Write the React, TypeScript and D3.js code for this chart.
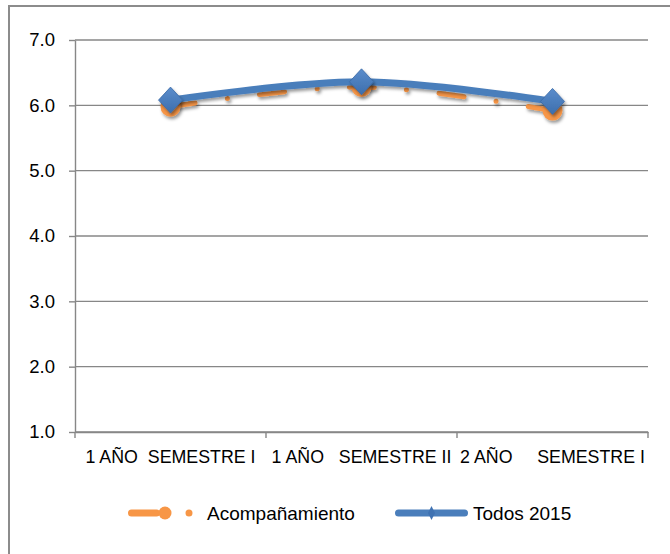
import React, { useEffect, useRef } from "react";
import * as d3 from "d3";

// values
const categories = ["1 AÑO  SEMESTRE I", "1 AÑO   SEMESTRE II", "2 AÑO     SEMESTRE I"];
const acompanamiento = [5.98, 6.28, 5.92];
const todos2015 = [6.08, 6.36, 6.06];
const yTicks = [1, 2, 3, 4, 5, 6, 7];
const seriesNames = ["Acompañamiento", "Todos 2015"];

const ORANGE = "#F79646";
const BLUE = "#4A7EBB";
const GRID = "#878787";
const FONT = "'Liberation Sans', Arial, sans-serif";

const App = () => {
  const svgRef = useRef<SVGSVGElement>(null);

  useEffect(() => {
    const svg = d3.select(svgRef.current);
    svg.selectAll("*").remove();

    const width = 670;
    const height = 554;
    // plot area
    const margin = { top: 40, right: 22, bottom: 122, left: 75 };

    const x = d3
      .scaleBand<string>()
      .domain(categories)
      .range([margin.left, width - margin.right])
      .padding(0);
    const y = d3
      .scaleLinear()
      .domain([1, 7])
      .range([height - margin.bottom, margin.top]);
    const cx = (i: number) => (x(categories[i]) as number) + x.bandwidth() / 2;

    // defs: shadow + diamond gradient
    const defs = svg.append("defs");
    const shadow = defs
      .append("filter")
      .attr("id", "shadow")
      .attr("x", "-50%")
      .attr("y", "-50%")
      .attr("width", "200%")
      .attr("height", "200%");
    shadow
      .append("feDropShadow")
      .attr("dx", 1.5)
      .attr("dy", 2.5)
      .attr("stdDeviation", 1.6)
      .attr("flood-color", "#000")
      .attr("flood-opacity", 0.4);
    const grad = defs
      .append("linearGradient")
      .attr("id", "diam")
      .attr("x1", 0)
      .attr("y1", 0)
      .attr("x2", 0)
      .attr("y2", 1);
    grad.append("stop").attr("offset", "0%").attr("stop-color", "#5B8DCC");
    grad.append("stop").attr("offset", "100%").attr("stop-color", "#3C6EAD");

    // outer chart border
    svg
      .append("rect")
      .attr("x", 9)
      .attr("y", 6)
      .attr("width", 720)
      .attr("height", 620)
      .attr("fill", "none")
      .attr("stroke", "#8C8C8C")
      .attr("stroke-width", 2);

    // gridlines
    svg
      .append("g")
      .selectAll("line")
      .data(yTicks)
      .join("line")
      .attr("x1", margin.left)
      .attr("x2", width - margin.right)
      .attr("y1", (d) => y(d))
      .attr("y2", (d) => y(d))
      .attr("stroke", GRID)
      .attr("stroke-width", 1.4);

    // y axis
    const yAxis = d3
      .axisLeft(y)
      .tickValues(yTicks)
      .tickFormat(d3.format(".1f"))
      .tickSize(6)
      .tickSizeOuter(0)
      .tickPadding(14);
    const gy = svg
      .append("g")
      .attr("transform", `translate(${margin.left},0)`)
      .call(yAxis);
    gy.select(".domain").attr("stroke", GRID).attr("stroke-width", 1.4);
    gy.selectAll(".tick line").attr("stroke", GRID).attr("stroke-width", 1.4);
    gy.selectAll(".tick text")
      .attr("fill", "#000")
      .style("font-family", FONT)
      .style("font-size", "18.5px");

    // x axis: ticks on band boundaries, labels in band centres
    const xAxis = d3.axisBottom(x).tickSize(0).tickSizeOuter(0).tickPadding(0);
    const gx = svg
      .append("g")
      .attr("transform", `translate(0,${height - margin.bottom})`)
      .call(xAxis);
    gx.select(".domain").attr("stroke", GRID).attr("stroke-width", 1.4);
    gx.selectAll(".tick text")
      .attr("y", 25)
      .attr("dy", "0.35em")
      .attr("fill", "#000")
      .style("white-space", "pre")
      .style("font-family", FONT)
      .style("font-size", "17.8px");
    const bounds = categories.map((c) => x(c) as number).concat([x.range()[1]]);
    gx.append("g")
      .selectAll("line")
      .data(bounds)
      .join("line")
      .attr("x1", (d) => d)
      .attr("x2", (d) => d)
      .attr("y1", 0)
      .attr("y2", 6)
      .attr("stroke", GRID)
      .attr("stroke-width", 1.4);

    // smoothed lines
    const line = d3
      .line<number>()
      .x((d, i) => cx(i))
      .y((d) => y(d))
      .curve(d3.curveCatmullRom.alpha(0.5));

    // Acompañamiento: dashed orange with circles
    svg
      .append("path")
      .datum(acompanamiento)
      .attr("d", line)
      .attr("fill", "none")
      .attr("stroke", ORANGE)
      .attr("stroke-width", 5)
      .attr("stroke-linecap", "round")
      .attr("stroke-dasharray", "25 32.5 0 32.5")
      .attr("filter", "url(#shadow)");
    svg
      .append("g")
      .selectAll("circle")
      .data(acompanamiento)
      .join("circle")
      .attr("cx", (d, i) => cx(i))
      .attr("cy", (d) => y(d))
      .attr("r", 10)
      .attr("fill", ORANGE)
      .attr("filter", "url(#shadow)");

    // Todos 2015: solid blue with diamonds
    svg
      .append("path")
      .datum(todos2015)
      .attr("d", line)
      .attr("fill", "none")
      .attr("stroke", BLUE)
      .attr("stroke-width", 7)
      .attr("stroke-linecap", "round")
      .attr("filter", "url(#shadow)");
    const diamond = (w: number, h: number) => `M0,${-h}L${w},0L0,${h}L${-w},0Z`;
    svg
      .append("g")
      .selectAll("path")
      .data(todos2015)
      .join("path")
      .attr("transform", (d, i) => `translate(${cx(i)},${y(d)})`)
      .attr("d", diamond(12, 13))
      .attr("fill", "url(#diam)")
      .attr("stroke", "#3A6AA6")
      .attr("stroke-width", 0.8)
      .attr("filter", "url(#shadow)");

    // legend
    const legendY = 513;
    const lg = svg.append("g").attr("transform", `translate(0,${legendY})`);
    lg.append("line")
      .attr("x1", 131.5)
      .attr("x2", 199)
      .attr("stroke", ORANGE)
      .attr("stroke-width", 7)
      .attr("stroke-linecap", "round")
      .attr("stroke-dasharray", "25 32.5 0 32.5");
    lg.append("circle").attr("cx", 165).attr("r", 6.5).attr("fill", ORANGE);
    lg.append("text")
      .attr("x", 207)
      .attr("dy", "0.35em")
      .text(seriesNames[0]);
    lg.append("line")
      .attr("x1", 398.5)
      .attr("x2", 464.5)
      .attr("stroke", BLUE)
      .attr("stroke-width", 7)
      .attr("stroke-linecap", "round");
    lg.append("path")
      .attr("transform", "translate(431.5,0)")
      .attr("d", diamond(3.5, 7))
      .attr("fill", "#3F72B2");
    lg.append("text")
      .attr("x", 473)
      .attr("dy", "0.35em")
      .text(seriesNames[1]);
    lg.selectAll("text")
      .attr("fill", "#000")
      .style("font-family", FONT)
      .style("font-size", "19px");
  }, []);

  return (
    <svg
      ref={svgRef}
      width={670}
      height={554}
      style={{ position: "absolute", left: 0, top: 0, background: "#fff" }}
    ></svg>
  );
};

export default App;
